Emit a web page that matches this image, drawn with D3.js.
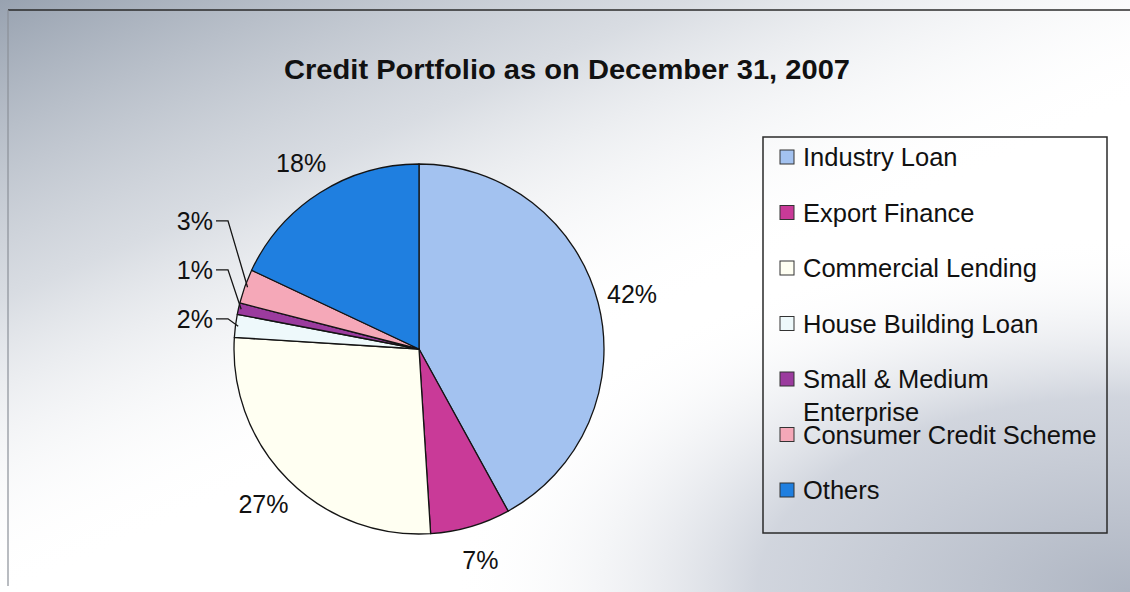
<!DOCTYPE html>
<html>
<head>
<meta charset="utf-8">
<script src="https://cdn.jsdelivr.net/npm/d3@7"></script>
<style>
  html, body { margin: 0; padding: 0; background: #ffffff; }
  svg { display: block; }
  text { font-family: "Liberation Sans", Arial, sans-serif; fill: #111; }
</style>
</head>
<body>
<svg id="chart" width="1130" height="592"></svg>
<script>
// Credit portfolio shares (%) as on December 31, 2007
const categories = [
  "Industry Loan",
  "Export Finance",
  "Commercial Lending",
  "House Building Loan",
  "Small & Medium Enterprise",
  "Consumer Credit Scheme",
  "Others"
];
const shares = [42, 7, 27, 2, 1, 3, 18];
const sliceColors = ["#a3c2f0", "#c93a98", "#fffff2", "#eef9fb", "#9b3b9e", "#f5a8b8", "#1f7fe0"];
const legendLines = [
  ["Industry Loan"],
  ["Export Finance"],
  ["Commercial Lending"],
  ["House Building Loan"],
  ["Small & Medium", "Enterprise"],
  ["Consumer Credit Scheme"],
  ["Others"]
];
const titleText = "Credit Portfolio as on December 31, 2007";

const W = 1130, H = 592;
const svg = d3.select("#chart");
const defs = svg.append("defs");

// Background: white sheet with grey shading in the upper-left and lower-right
const gTL = defs.append("linearGradient").attr("id", "bgTL")
  .attr("x1", "0").attr("y1", "0").attr("x2", "0.5").attr("y2", "0.6");
gTL.append("stop").attr("offset", "0").attr("stop-color", "#98a2b0").attr("stop-opacity", 1);
gTL.append("stop").attr("offset", "0.5").attr("stop-color", "#c4cad3").attr("stop-opacity", 0.65);
gTL.append("stop").attr("offset", "1").attr("stop-color", "#ffffff").attr("stop-opacity", 0);

const gBR = defs.append("radialGradient").attr("id", "bgBR")
  .attr("cx", "1").attr("cy", "1").attr("r", "0.6").attr("fx", "1").attr("fy", "1");
gBR.append("stop").attr("offset", "0").attr("stop-color", "#aeb5c2").attr("stop-opacity", 1);
gBR.append("stop").attr("offset", "0.55").attr("stop-color", "#c9ced8").attr("stop-opacity", 0.85);
gBR.append("stop").attr("offset", "1").attr("stop-color", "#ffffff").attr("stop-opacity", 0);

svg.append("rect").attr("width", W).attr("height", H).attr("fill", "#ffffff");
svg.append("rect").attr("width", W).attr("height", H).attr("fill", "url(#bgTL)");
svg.append("rect").attr("width", W).attr("height", H).attr("fill", "url(#bgBR)");

// Frame edges
svg.append("line").attr("x1", 8).attr("x2", W).attr("y1", 10).attr("y2", 10)
  .attr("stroke", "#2a2a2a").attr("stroke-width", 1.5);
svg.append("line").attr("x1", 8).attr("x2", 8).attr("y1", 10).attr("y2", 586)
  .attr("stroke", "#8a8f98").attr("stroke-width", 1.2);

// Title
svg.append("text")
  .attr("x", 567).attr("y", 79)
  .attr("text-anchor", "middle")
  .attr("font-size", 28).attr("font-weight", "bold")
  .attr("textLength", 566).attr("lengthAdjust", "spacingAndGlyphs")
  .text(titleText);

// Pie
const cx = 419, cy = 349, r = 185;
const data = categories.map((c, i) => ({ name: c, value: shares[i], color: sliceColors[i] }));
const pie = d3.pie().value(d => d.value).sort(null);
const arcs = pie(data);
const arc = d3.arc().innerRadius(0).outerRadius(r);

const g = svg.append("g").attr("transform", `translate(${cx},${cy})`);
g.selectAll("path.slice").data(arcs).join("path")
  .attr("class", "slice")
  .attr("d", arc)
  .attr("fill", d => d.data.color)
  .attr("stroke", "#141414").attr("stroke-width", 1.3)
  .attr("stroke-linejoin", "round");

// Percentage labels
const fmt = v => v + "%";
const mid = d => (d.startAngle + d.endAngle) / 2;
const labelR = r + 35;
const bigArcs = arcs.filter(d => d.data.value >= 5);
const smallArcs = arcs.filter(d => d.data.value < 5);

g.selectAll("text.big").data(bigArcs).join("text")
  .attr("class", "big")
  .attr("x", d => labelR * Math.sin(mid(d)))
  .attr("y", d => -labelR * Math.cos(mid(d)))
  .attr("dy", "0.35em")
  .attr("text-anchor", "middle")
  .attr("font-size", 25)
  .text(d => fmt(d.data.value));

// Small slices: stacked labels on the left joined by elbow leader lines
const smallSorted = smallArcs.slice().sort((a, b) => mid(a) - mid(b)); // bottom-most first
const labelRight = -r - 21;  // right edge of the label column
const stepY = 49;
const anchorY0 = -r * Math.cos(mid(smallSorted[0])) - 7;
const leaders = smallSorted.map((d, i) => {
  const a = mid(d);
  const ly = anchorY0 - i * stepY;
  const px = 0.985 * r * Math.sin(a), py = -0.985 * r * Math.cos(a);
  return { d, ly, px, py };
});

g.selectAll("text.small").data(leaders).join("text")
  .attr("class", "small")
  .attr("x", labelRight)
  .attr("y", l => l.ly)
  .attr("dy", "0.35em")
  .attr("text-anchor", "end")
  .attr("font-size", 25)
  .text(l => fmt(l.d.data.value));

g.selectAll("polyline.leader").data(leaders).join("polyline")
  .attr("class", "leader")
  .attr("points", l => {
    const x0 = labelRight + 3, x1 = labelRight + 15;
    return `${x0},${l.ly} ${x1},${l.ly} ${l.px},${l.py}`;
  })
  .attr("fill", "none").attr("stroke", "#141414").attr("stroke-width", 1.3);

// Legend
const lg = svg.append("g");
lg.append("rect")
  .attr("x", 763).attr("y", 137).attr("width", 344).attr("height", 396)
  .attr("fill", "none").attr("stroke", "#2a2a2a").attr("stroke-width", 1.5);

const rowY = d3.scaleLinear().domain([0, 1]).range([157, 212.5]);
const items = lg.selectAll("g.item").data(data).join("g")
  .attr("class", "item")
  .attr("transform", (d, i) => `translate(780,${rowY(i)})`);
items.append("rect")
  .attr("x", 0).attr("y", -7).attr("width", 14).attr("height", 14)
  .attr("fill", d => d.color)
  .attr("stroke", "#333").attr("stroke-width", 1);
items.append("text")
  .attr("x", 23).attr("y", 0)
  .attr("font-size", 25.5)
  .each(function (d, i) {
    const t = d3.select(this);
    legendLines[i].forEach((line, k) => {
      t.append("tspan").attr("x", 23).attr("dy", k === 0 ? "0.36em" : "1.3em").text(line);
    });
  });
</script>
</body>
</html>
